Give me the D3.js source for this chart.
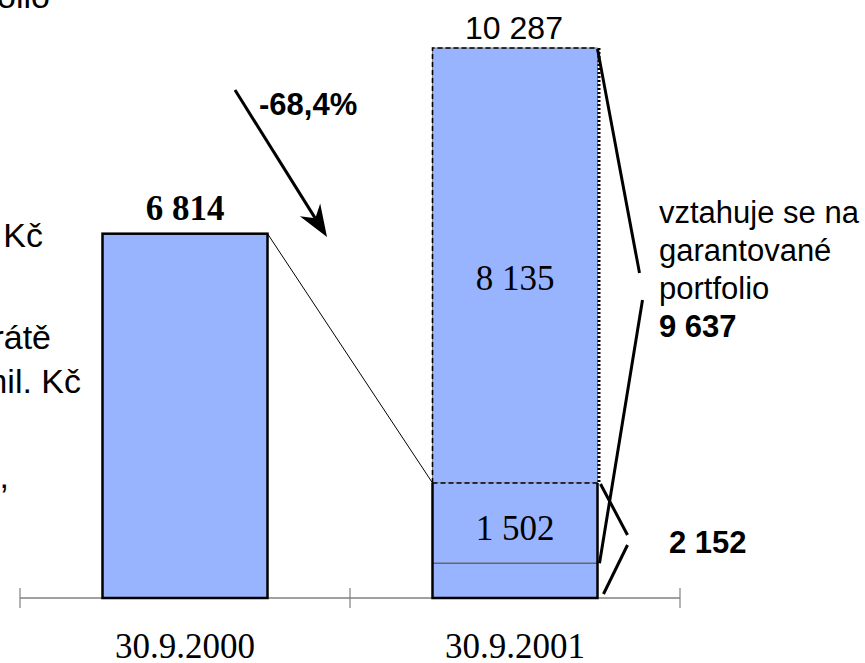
<!DOCTYPE html>
<html>
<head>
<meta charset="utf-8">
<script src="https://cdn.jsdelivr.net/npm/d3@7"></script>
<style>
  body { margin: 0; background: #fff; }
  svg { display: block; }
  .serif { font-family: "Liberation Serif", "Times New Roman", serif; }
  .sans { font-family: "Liberation Sans", Arial, sans-serif; }
</style>
</head>
<body>
<div id="chartDiv"></div>
<script>
var width = 865;
var height = 663;

// data
var categories = ["30.9.2000", "30.9.2001"];
var value2000 = 6814;
var segments2001 = [650, 1502, 8135];   // bottom part, labelled part, upper part
var noteLines = ["vztahuje se na", "garantované", "portfolio"];
var leftNotes = ["portfolio", "mil. Kč", "ztrátě", "mil. Kč", ","];

var barColor = "#99b4ff";
var axisY = 598;

var cz = d3.formatLocale({ decimal: ",", thousands: " ", grouping: [3], currency: ["", " Kč"], minus: "-" });
var fmt = cz.format(",d");
var pct = cz.format(".1%");

var total2001 = d3.sum(segments2001);
var guaranteed = segments2001[1] + segments2001[2];
var lowerBox = segments2001[0] + segments2001[1];
var change = lowerBox / value2000 - 1;

var x = d3.scaleBand().domain(categories).range([20, 680]).paddingInner(0.5).paddingOuter(0.25);
var y = d3.scaleLinear().domain([0, total2001]).range([axisY, 48]);

var chart = d3.select("#chartDiv").append("svg")
    .attr("width", width)
    .attr("height", height);

// text box cut off by the left edge
var leftPos = [[50, 8], [43, 247], [51, 349], [81, 393], [9, 488]];
chart.selectAll(".leftnote")
    .data(leftNotes)
    .enter().append("text")
    .attr("class", "leftnote sans")
    .attr("text-anchor", "end")
    .attr("x", function(d, i) { return leftPos[i][0]; })
    .attr("y", function(d, i) { return leftPos[i][1]; })
    .style("font-size", "34px")
    .text(function(d) { return d; });

// axis line
chart.append("line")
    .attr("x1", x.range()[0]).attr("x2", x.range()[1])
    .attr("y1", axisY).attr("y2", axisY)
    .attr("stroke", "#808080").attr("stroke-width", 1.5);

var bounds = [x.range()[0]].concat(categories.map(function(c) { return x(c) - x.step() * x.paddingInner() / 2 + x.step(); }));
chart.selectAll(".tick-mark")
    .data(bounds)
    .enter().append("line")
    .attr("class", "tick-mark")
    .attr("x1", function(d) { return d; }).attr("x2", function(d) { return d; })
    .attr("y1", axisY - 10).attr("y2", axisY + 10)
    .attr("stroke", "#808080").attr("stroke-width", 1.2);

chart.selectAll(".xlabel")
    .data(categories)
    .enter().append("text")
    .attr("class", "xlabel serif")
    .attr("text-anchor", "middle")
    .attr("x", function(d) { return x(d) + x.bandwidth() / 2; })
    .attr("y", 658)
    .style("font-size", "35px")
    .text(function(d) { return d; });

// bar 2000
var bx1 = x(categories[0]);
var bx2 = x(categories[1]);
var bw = x.bandwidth();

chart.append("rect")
    .attr("x", bx1).attr("y", y(value2000))
    .attr("width", bw).attr("height", axisY - y(value2000))
    .attr("fill", barColor)
    .attr("stroke", "#000").attr("stroke-width", 2.5);

chart.append("text")
    .attr("class", "serif")
    .attr("text-anchor", "middle")
    .attr("x", bx1 + bw / 2).attr("y", y(value2000) - 14)
    .style("font-size", "35px").style("font-weight", "bold")
    .text(fmt(value2000));

// thin connector
chart.append("line")
    .attr("x1", bx1 + bw).attr("y1", y(value2000))
    .attr("x2", bx2).attr("y2", y(lowerBox))
    .attr("stroke", "#000").attr("stroke-width", 1);

// bar 2001: upper part (dashed outline)
var yTop = y(total2001), yMid = y(lowerBox), yLow = y(segments2001[0]);

chart.append("rect")
    .attr("x", bx2).attr("y", yTop)
    .attr("width", bw).attr("height", yMid - yTop)
    .attr("fill", barColor)
    .attr("stroke", "#808080").attr("stroke-width", 1);

chart.append("path")
    .attr("d", "M" + bx2 + "," + yMid + "V" + yTop + "H" + (bx2 + bw))
    .attr("fill", "none")
    .attr("stroke", "#000").attr("stroke-width", 1.6)
    .attr("stroke-dasharray", "5,3");

chart.append("line")
    .attr("x1", bx2 + bw + 1.5).attr("x2", bx2 + bw + 1.5)
    .attr("y1", yTop).attr("y2", yMid)
    .attr("stroke", "#000").attr("stroke-width", 3)
    .attr("stroke-dasharray", "2,2");

// bar 2001: lower part (solid outline)
chart.append("rect")
    .attr("x", bx2).attr("y", yMid)
    .attr("width", bw).attr("height", axisY - yMid)
    .attr("fill", barColor);

chart.append("line")
    .attr("x1", bx2).attr("x2", bx2 + bw)
    .attr("y1", yLow).attr("y2", yLow)
    .attr("stroke", "#666").attr("stroke-width", 1.5);

chart.append("path")
    .attr("d", "M" + bx2 + "," + yMid + "V" + axisY + "H" + (bx2 + bw) + "V" + yMid)
    .attr("fill", "none")
    .attr("stroke", "#000").attr("stroke-width", 2.5);

chart.append("line")
    .attr("x1", bx2).attr("x2", bx2 + bw)
    .attr("y1", yMid).attr("y2", yMid)
    .attr("stroke", "#000").attr("stroke-width", 1.5)
    .attr("stroke-dasharray", "5,3");

// segment labels
chart.append("text")
    .attr("class", "serif").attr("text-anchor", "middle")
    .attr("x", bx2 + bw / 2).attr("y", (yTop + yMid) / 2 + 25)
    .style("font-size", "35px")
    .text(fmt(segments2001[2]));

chart.append("text")
    .attr("class", "serif").attr("text-anchor", "middle")
    .attr("x", bx2 + bw / 2).attr("y", (yMid + yLow) / 2 + 17)
    .style("font-size", "35px")
    .text(fmt(segments2001[1]));

chart.append("text")
    .attr("class", "sans").attr("text-anchor", "middle")
    .attr("x", bx2 + bw / 2 - 1).attr("y", yTop - 9)
    .style("font-size", "32px")
    .text(fmt(total2001));

// change arrow
var a0 = [235, 90], a1 = [327, 237];
var dx = a1[0] - a0[0], dy = a1[1] - a0[1], len = Math.sqrt(dx * dx + dy * dy);
var ux = dx / len, uy = dy / len, nx = -uy, ny = ux;
var headLen = 32, headW = 12, notch = 22;

chart.append("line")
    .attr("x1", a0[0]).attr("y1", a0[1])
    .attr("x2", a1[0] - ux * notch).attr("y2", a1[1] - uy * notch)
    .attr("stroke", "#000").attr("stroke-width", 3);

var head = d3.path();
head.moveTo(a1[0], a1[1]);
head.lineTo(a1[0] - ux * headLen + nx * headW, a1[1] - uy * headLen + ny * headW);
head.lineTo(a1[0] - ux * notch, a1[1] - uy * notch);
head.lineTo(a1[0] - ux * headLen - nx * headW, a1[1] - uy * headLen - ny * headW);
head.closePath();
chart.append("path").attr("d", head.toString()).attr("fill", "#000");

chart.append("text")
    .attr("class", "sans")
    .attr("x", 259).attr("y", 115)
    .style("font-size", "31px").style("font-weight", "bold")
    .text(pct(change));

// brackets for the guaranteed portfolio and the lower box
var rx = bx2 + bw;
var bracket1 = [[[rx, yTop + 1], [rx + 42, 273]], [[rx + 45, 300], [rx + 2, yLow]]];
var bracket2 = [[[rx + 3, yMid + 1], [rx + 30, 535]], [[rx + 30, 545], [rx + 6, axisY - 4]]];
chart.selectAll(".bracket")
    .data(bracket1.concat(bracket2))
    .enter().append("line")
    .attr("class", "bracket")
    .attr("x1", function(d) { return d[0][0]; }).attr("y1", function(d) { return d[0][1]; })
    .attr("x2", function(d) { return d[1][0]; }).attr("y2", function(d) { return d[1][1]; })
    .attr("stroke", "#000").attr("stroke-width", 3);

chart.selectAll(".note")
    .data(noteLines)
    .enter().append("text")
    .attr("class", "note sans")
    .attr("x", 659)
    .attr("y", function(d, i) { return 223 + i * 38; })
    .style("font-size", "31px")
    .text(function(d) { return d; });

chart.append("text")
    .attr("class", "sans")
    .attr("x", 659).attr("y", 337)
    .style("font-size", "31px").style("font-weight", "bold")
    .text(fmt(guaranteed));

chart.append("text")
    .attr("class", "sans")
    .attr("x", 669).attr("y", 553)
    .style("font-size", "31px").style("font-weight", "bold")
    .text(fmt(lowerBox));
</script>
</body>
</html>
